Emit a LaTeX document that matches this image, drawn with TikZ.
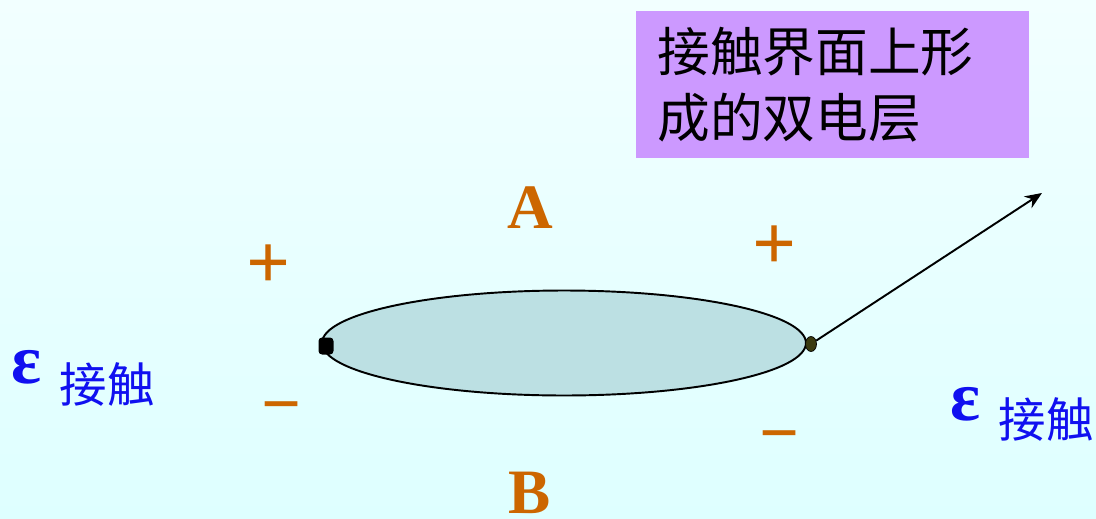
\documentclass[tikz,border=0pt]{standalone}
\usepackage{fontspec}
\setmainfont{Liberation Serif}
\newfontfamily\cjk{Noto Sans CJK SC}
\usepackage{xcolor}
\usepackage{tikz}
\usetikzlibrary{
  arrows.meta,
  positioning,
  shapes.geometric
}
\definecolor{bgtop}{HTML}{F2FFFF}
\definecolor{bgbot}{HTML}{DEFFFF}
\definecolor{diskfill}{HTML}{BCE0E3}
\definecolor{notefill}{HTML}{CC99FF}
\definecolor{chargeorange}{HTML}{CC6600}
\definecolor{epsblue}{HTML}{1010F0}
\definecolor{dotolive}{HTML}{3A3A10}

\begin{document}
\begin{tikzpicture}[x=0.02cm, y=-0.02cm, >={Stealth[length=0.34cm, width=0.28cm]},
  charge/.style={text=chargeorange, font=\fontsize{44}{44}\selectfont\bfseries, inner sep=0pt},
  side/.style={text=chargeorange, font=\fontsize{36}{36}\selectfont\bfseries, inner sep=0pt},
  eps/.style={text=epsblue, font=\fontsize{40}{40}\selectfont\bfseries, inner sep=0pt},
  contact/.style={text=epsblue, font=\fontsize{27}{27}\selectfont\cjk, inner sep=0pt}]
\useasboundingbox (0,0) rectangle (1096,518);
\shade[top color=bgtop, bottom color=bgbot] (0,0) rectangle (1096,518);

% the contact surface
\node[draw, line width=1.1pt, ellipse, fill=diskfill, inner sep=0pt,
  minimum width=9.68cm, minimum height=2.1cm] (disk) at (564,343) {};
\node[fill=black, inner sep=0pt, minimum width=0.3cm, minimum height=0.34cm,
  rounded corners=2pt] (ldot) at (326,346) {};
\node[draw, fill=dotolive, ellipse, inner sep=0pt,
  minimum width=0.22cm, minimum height=0.3cm] (rdot) at (811,344) {};

% label box
\node[fill=notefill, anchor=north west, minimum width=7.86cm, minimum height=2.94cm,
  inner xsep=0.42cm, text width=7.02cm, align=left,
  font=\fontsize{30}{37.5}\selectfont\cjk] (note) at (636,11)
  {接触界面上形\\成的双电层};
\coordinate (tip) at (1042,193);
\draw[->, line width=1.1pt] (rdot) -- (tip);

% layers A and B
\node[side] (A) at (530,208) {A};
\node[side] (B) at (530,493) {B};
\node[charge] (pl) at (269,267) {+};
\node[charge] (pr) at (775,248) {+};
\node[charge, font=\fontsize{40}{40}\selectfont\bfseries] (ml) at (282,415) {−};
\node[charge, font=\fontsize{40}{40}\selectfont\bfseries] (mr) at (780,444) {−};

% contact potentials
\node[eps] (el) at (27,367) {ε};
\node[contact] (cl) at (107,384) {接触};
\node[eps] (er) at (966,404) {ε};
\node[contact] (cr) at (1046,419) {接触};
\end{tikzpicture}
\end{document}
